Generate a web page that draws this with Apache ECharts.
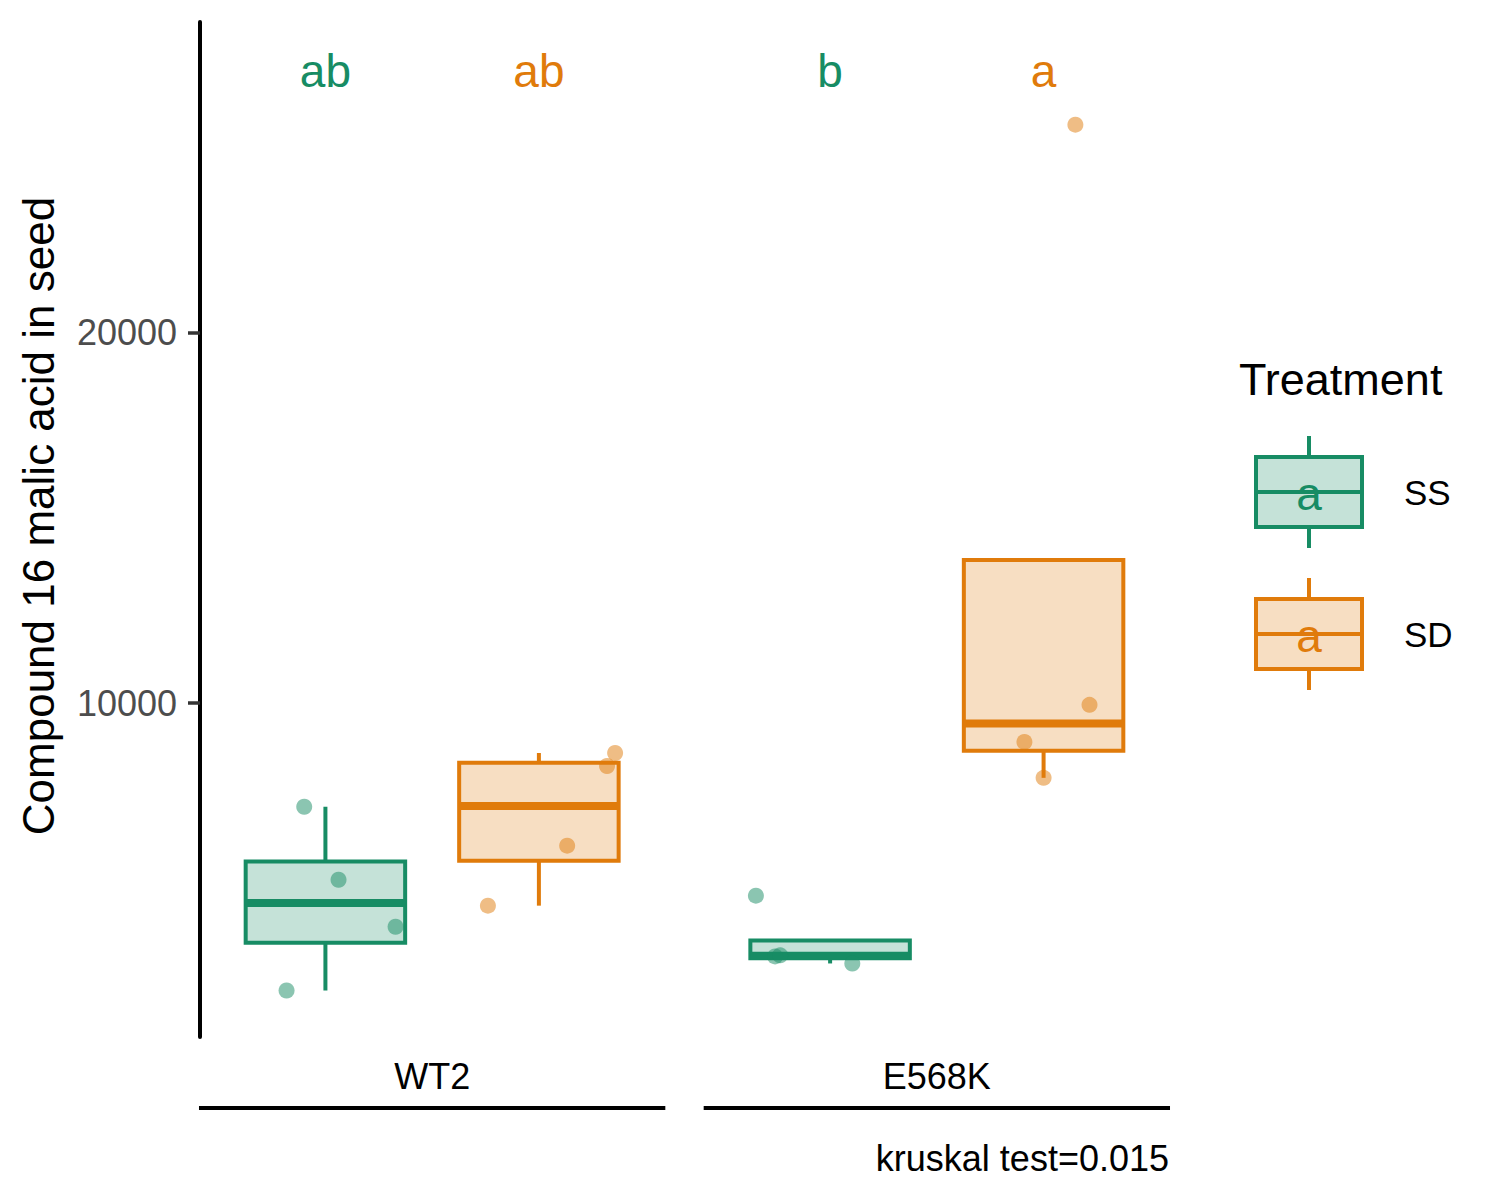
<!DOCTYPE html>
<html>
<head>
<meta charset="utf-8">
<script src="https://cdn.jsdelivr.net/npm/echarts@6/dist/echarts.min.js"></script>
<style>
  html, body { margin: 0; padding: 0; background: #ffffff; }
  #chart { width: 1500px; height: 1200px; }
</style>
</head>
<body>
<div id="chart"></div>
<script>
var groups = ['WT2', 'E568K'];
var treatments = ['SS', 'SD'];

// box stats, order: WT2-SS, WT2-SD, E568K-SS, E568K-SD
var boxLower  = [2240, 4530, 2970, 7980];
var boxQ1     = [3530, 5740, 3110, 8710];
var boxMedian = [4600, 7220, 3175, 9450];
var boxQ3     = [5720, 8390, 3590, 13860];
var boxUpper  = [7200, 8650, 3590, 13860];

// raw points per box + their jitter (category units)
var pointValues = [
  [7200, 5230, 3960, 2240],
  [8650, 8300, 6150, 4530],
  [4800, 3160, 3190, 2970],
  [9950, 8950, 7980, 25610]
];
var pointJitter = [
  [-0.042, 0.026, 0.139, -0.077],
  [0.151, 0.135, 0.056, -0.101],
  [-0.147, -0.109, -0.099, 0.044],
  [0.091, -0.038, 0.0, 0.063]
];

var sigLetters = ['ab', 'ab', 'b', 'a'];
var sigLevel = 27050;
var yTicks = [10000, 20000];
var caption = 'kruskal test=0.015';

(function() {
  var font = '"Liberation Sans", Arial, sans-serif';
  var lineColors = ['#178C64', '#E07B0B'];
  var fillColors = ['rgba(23,140,100,0.25)', 'rgba(224,123,11,0.25)'];
  var dodge = 0.2115;
  var boxWidth = 0.316;

  function boxX(i) {
    var g = Math.floor(i / 2), t = i % 2;
    return g + 1 + (t === 0 ? -dodge : dodge);
  }

  var boxData = boxLower.map(function(lo, i) {
    return [boxX(i), lo, boxQ1[i], boxMedian[i], boxQ3[i], boxUpper[i], i % 2];
  });

  var pointSeries = treatments.map(function(name, t) {
    var data = [];
    pointValues.forEach(function(vals, i) {
      if (i % 2 !== t) return;
      vals.forEach(function(v, k) { data.push([boxX(i) + pointJitter[i][k], v]); });
    });
    return {
      name: name,
      type: 'scatter',
      z: 5,
      symbolSize: 16,
      itemStyle: { color: lineColors[t], opacity: 0.5 },
      data: data
    };
  });

  var letterData = sigLetters.map(function(s, i) {
    return {
      value: [boxX(i), sigLevel],
      label: { formatter: s, color: lineColors[i % 2] }
    };
  });

  var chart = echarts.init(document.getElementById('chart'), null, { renderer: 'svg' });
  chart.setOption({
    animation: false,
    backgroundColor: '#ffffff',
    textStyle: { fontFamily: font },
    grid: { left: 200, right: 331, top: 22, bottom: 163 },
    xAxis: {
      type: 'value',
      min: 0.54,
      max: 2.46,
      splitLine: { show: false },
      axisLine: { show: false },
      axisTick: { show: false },
      axisLabel: {
        customValues: [1, 2],
        formatter: function(v) { return groups[Math.round(v) - 1]; },
        color: '#000000',
        fontSize: 36,
        fontFamily: font,
        margin: 21
      }
    },
    yAxis: {
      type: 'value',
      min: 985,
      max: 28381,
      name: 'Compound 16 malic acid in seed',
      nameLocation: 'middle',
      nameGap: 140,
      nameTextStyle: { color: '#000000', fontSize: 44, fontFamily: font, padding: [0, 0, 0, 27] },
      splitLine: { show: false },
      axisLine: { show: true, lineStyle: { color: '#000000', width: 4 } },
      axisTick: { show: true, customValues: yTicks, length: 12, lineStyle: { color: '#333333', width: 3.5 } },
      axisLabel: {
        customValues: yTicks,
        formatter: function(v) { return String(v); },
        color: '#4D4D4D',
        fontSize: 36,
        fontFamily: font,
        margin: 23
      }
    },
    series: [{
      type: 'custom',
      z: 2,
      renderItem: function(params, api) {
        var x = api.value(0);
        var t = api.value(6);
        var lo = api.coord([x, api.value(1)]);
        var q1 = api.coord([x, api.value(2)]);
        var md = api.coord([x, api.value(3)]);
        var q3 = api.coord([x, api.value(4)]);
        var hi = api.coord([x, api.value(5)]);
        var hw = api.size([boxWidth, 0])[0] / 2;
        var cx = lo[0];
        var stroke = { stroke: lineColors[t], lineWidth: 4 };
        return {
          type: 'group',
          children: [
            { type: 'line', shape: { x1: cx, y1: q1[1], x2: cx, y2: lo[1] }, style: stroke },
            { type: 'line', shape: { x1: cx, y1: q3[1], x2: cx, y2: hi[1] }, style: stroke },
            {
              type: 'rect',
              shape: { x: cx - hw, y: q3[1], width: hw * 2, height: q1[1] - q3[1] },
              style: { fill: fillColors[t], stroke: lineColors[t], lineWidth: 4 }
            },
            { type: 'line', shape: { x1: cx - hw, y1: md[1], x2: cx + hw, y2: md[1] },
              style: { stroke: lineColors[t], lineWidth: 8 } }
          ]
        };
      },
      data: boxData
    }].concat(pointSeries).concat([{
      type: 'scatter',
      z: 6,
      symbolSize: 0,
      itemStyle: { opacity: 1 },
      label: {
        show: true,
        position: 'inside',
        fontSize: 46,
        fontFamily: font
      },
      data: letterData
    }])
  });

  // underlines below the group labels + legend + caption
  var half = 0.462;
  var graphics = [];
  groups.forEach(function(g, i) {
    var x1 = chart.convertToPixel({ xAxisIndex: 0 }, i + 1 - half);
    var x2 = chart.convertToPixel({ xAxisIndex: 0 }, i + 1 + half);
    graphics.push({ type: 'line', shape: { x1: x1, y1: 1108, x2: x2, y2: 1108 },
      style: { stroke: '#000000', lineWidth: 4 } });
  });

  graphics.push({ type: 'text', x: 1239, y: 379,
    style: { text: 'Treatment', font: '45px ' + font, fill: '#000000', textVerticalAlign: 'middle' } });

  treatments.forEach(function(name, t) {
    var top = 457 + t * 142, bottom = top + 70, mid = top + 35, cx = 1309;
    var st = { stroke: lineColors[t], lineWidth: 4 };
    graphics.push({ type: 'line', shape: { x1: cx, y1: top - 21, x2: cx, y2: top }, style: st });
    graphics.push({ type: 'line', shape: { x1: cx, y1: bottom, x2: cx, y2: bottom + 21 }, style: st });
    graphics.push({ type: 'rect', shape: { x: 1256, y: top, width: 106, height: 70 },
      style: { fill: fillColors[t], stroke: lineColors[t], lineWidth: 4 } });
    graphics.push({ type: 'line', shape: { x1: 1256, y1: mid, x2: 1362, y2: mid }, style: st });
    graphics.push({ type: 'text', x: cx, y: mid + 2,
      style: { text: 'a', font: '46px ' + font, fill: lineColors[t], textAlign: 'center', textVerticalAlign: 'middle' } });
    graphics.push({ type: 'text', x: 1404, y: mid,
      style: { text: name, font: '35px ' + font, fill: '#000000', textVerticalAlign: 'middle' } });
  });

  graphics.push({ type: 'text', x: 1169, y: 1158,
    style: { text: caption, font: '36px ' + font, fill: '#000000', textAlign: 'right', textVerticalAlign: 'middle' } });

  chart.setOption({ graphic: graphics });
  window.addEventListener('resize', function() { chart.resize(); });
})();
</script>
</body>
</html>
